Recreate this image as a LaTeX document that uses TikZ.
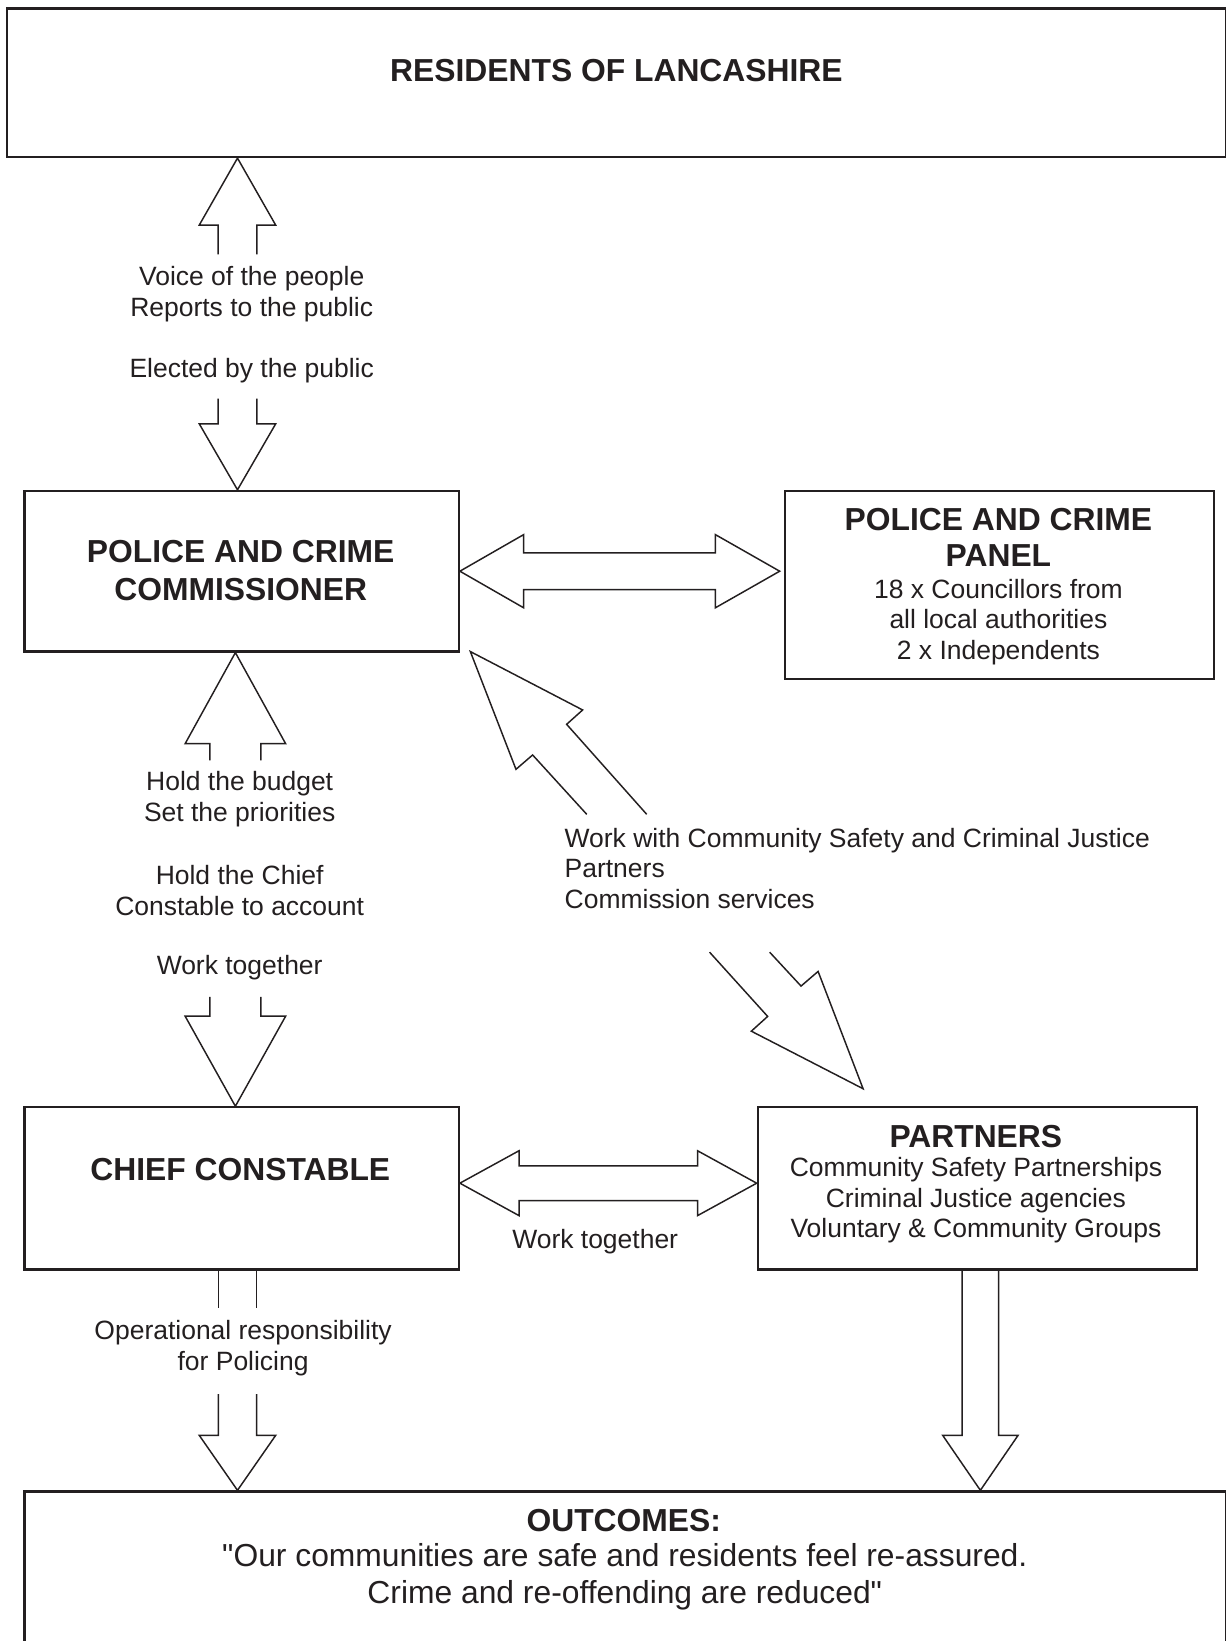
\documentclass[tikz,border=0pt]{standalone}
\usepackage{fontspec}
\setmainfont{Liberation Sans}[Ligatures=TeXOff]
\usetikzlibrary{calc}
\definecolor{ink}{RGB}{35,31,32}

\begin{document}
\begin{tikzpicture}[x=0.02cm, y=-0.02cm,
    box/.style={draw=ink, line width=1.2pt, rectangle, inner sep=0pt, anchor=north west},
    blk/.style={draw=ink, line width=0.8pt},
    head/.style={text=ink, inner sep=0pt, align=center, font=\bfseries\fontsize{17.3}{20.2}\selectfont},
    body/.style={text=ink, inner sep=0pt, align=center, font=\fontsize{14.4}{16.6}\selectfont}]
    \useasboundingbox (0,0) rectangle (1171,1568);
    % Boxes
    \node[box, minimum width=23.30cm, minimum height=2.84cm] (res) at (6,7) {};
    \node[box, minimum width=8.30cm, minimum height=3.07cm] (pcc) at (22.4,468) {};
    \node[box, minimum width=8.20cm, minimum height=3.59cm] (panel) at (749,468) {};
    \node[box, minimum width=8.30cm, minimum height=3.10cm] (cc) at (22.4,1057) {};
    \node[box, minimum width=8.39cm, minimum height=3.10cm] (partners) at (723,1057) {};
    \node[box, minimum width=22.97cm, minimum height=3.52cm] (out) at (22.4,1424) {};
    % Box texts
    \node[head] (resT) at (589,67) {RESIDENTS OF LANCASHIRE};
    \node[head, font=\bfseries\fontsize{17.3}{20.5}\selectfont] (pccT) at (230,545) {POLICE AND CRIME\\COMMISSIONER};
    \node[head, font=\bfseries\fontsize{17.3}{19.5}\selectfont] (panelT) at (954,513.7) {POLICE AND CRIME\\PANEL};
    \node[body] (panelB) at (954,594.2) {18 x Councillors from\\all local authorities\\2 x Independents};
    \node[head] (ccT) at (229.6,1117.2) {CHIEF CONSTABLE};
    \node[head] (partnersT) at (932.4,1085.5) {PARTNERS};
    \node[body] (partnersB) at (932.5,1147) {Community Safety Partnerships\\Criminal Justice agencies\\Voluntary \& Community Groups};
    \node[head] (outT) at (596,1452.5) {OUTCOMES:};
    \node[body, font=\fontsize{17.3}{19.9}\selectfont] (outB) at (597,1506.5) {"Our communities are safe and residents feel re-assured.\\Crime and re-offending are reduced"};
    % Labels
    \node[body] (voice) at (240.5,281) {Voice of the people\\Reports to the public};
    \node[body] (elect) at (240.5,353.7) {Elected by the public};
    \node[body] (budget) at (229,763.8) {Hold the budget\\Set the priorities};
    \node[body] (hold) at (229,851) {Hold the Chief\\Constable to account};
    \node[body] (work1) at (229,924.2) {Work together};
    \node[body, align=left, anchor=west] (partw) at (539.2,829.6) {Work with Community Safety and Criminal Justice\\Partners\\Commission services};
    \node[body] (work2) at (568.7,1186.3) {Work together};
    \node[body] (oper) at (232.3,1288.4) {Operational responsibility\\for Policing};
    % Residents <-> Commissioner
    \coordinate (a1) at ($(res.south -| pcc.north)+(-4,0)$);
    \draw[blk] ($(a1)+(-18.5,92)$) -- ++(0,-28) -- ++(-18,0) -- (a1) -- ++(36.5,64) -- ++(-18,0) -- ++(0,28);
    \coordinate (a2) at ($(pcc.north)+(-4,0)$);
    \draw[blk] ($(a2)+(-18.5,-87)$) -- ++(0,24) -- ++(-18,0) -- (a2) -- ++(36.5,-63) -- ++(-18,0) -- ++(0,-24);
    % Commissioner <-> Chief Constable
    \coordinate (a3) at ($(pcc.south)+(-6,0)$);
    \draw[blk] ($(a3)+(-24.3,103)$) -- ++(0,-16) -- ++(-23.7,0) -- (a3) -- ++(48,87) -- ++(-23.7,0) -- ++(0,16);
    \coordinate (a4) at ($(cc.north)+(-6,0)$);
    \draw[blk] ($(a4)+(-24.3,-104.5)$) -- ++(0,18.5) -- ++(-23.7,0) -- (a4) -- ++(48,-86) -- ++(-23.7,0) -- ++(0,-18.5);
    % Commissioner <-> Panel
    \coordinate (l1) at (pcc.east);
    \coordinate (r1) at ($(panel.west |- pcc.east)+(-4,0)$);
    \draw[blk] (l1) -- ++(61,-35) -- ++(0,17.5) -- ($(r1)+(-61.5,-17.5)$) -- ++(0,-17.5) -- (r1) -- ++(-61.5,35) -- ++(0,-17.5) -- ($(l1)+(61,17.5)$) -- ++(0,17.5) -- cycle;
    % Chief Constable <-> Partners
    \coordinate (l2) at ($(cc.east)+(0,-5)$);
    \coordinate (r2) at (partners.west |- l2);
    \draw[blk] (l2) -- ++(56.5,-31) -- ++(0,14.4) -- ($(r2)+(-56.5,-16.6)$) -- ++(0,-14.4) -- (r2) -- ++(-56.5,31) -- ++(0,-14.4) -- ($(l2)+(56.5,16.6)$) -- ++(0,14.4) -- cycle;
    % Commissioner <-> Partners
    \coordinate (d1) at ($(pcc.south east)+(10,-1)$);
    \draw[blk] ($(d1)+(111.2,155.5)$) -- ($(d1)+(59.5,98.8)$) -- ($(d1)+(43.6,112.5)$) -- (d1) -- ($(d1)+(107.3,55.8)$) -- ($(d1)+(92,69.5)$) -- ($(d1)+(168.5,155.5)$);
    \coordinate (d2) at ($(partners.north west)+(101.7,-16.7)$);
    \draw[blk] ($(d2)+(-146.7,-130.5)$) -- ($(d2)+(-91.2,-69.1)$) -- ($(d2)+(-106.8,-55)$) -- (d2) -- ($(d2)+(-43,-112.1)$) -- ($(d2)+(-59.3,-98.1)$) -- ($(d2)+(-89.3,-130.5)$);
    % Towards outcomes
    \coordinate (a5) at ($(cc.south)+(-4,0)$);
    \coordinate (a6) at (a5 |- out.north);
    \draw[blk] ($(a5)+(-18.3,0)$) -- ++(0,36) ($(a5)+(18.3,0)$) -- ++(0,36);
    \draw[blk] ($(a6)+(-18.3,-92)$) -- ++(0,39.5) -- ++(-18.2,0) -- (a6) -- ++(36.5,-52.5) -- ++(-18.2,0) -- ++(0,-39.5);
    \coordinate (a7) at ($(partners.south)+(3,0)$);
    \coordinate (a8) at (a7 |- out.north);
    \draw[blk] ($(a7)+(-17.5,0)$) -- ($(a8)+(-17.5,-52.5)$) -- ++(-18.5,0) -- (a8) -- ++(36,-52.5) -- ++(-18.5,0) -- ($(a7)+(17.5,0)$);
\end{tikzpicture}
\end{document}
